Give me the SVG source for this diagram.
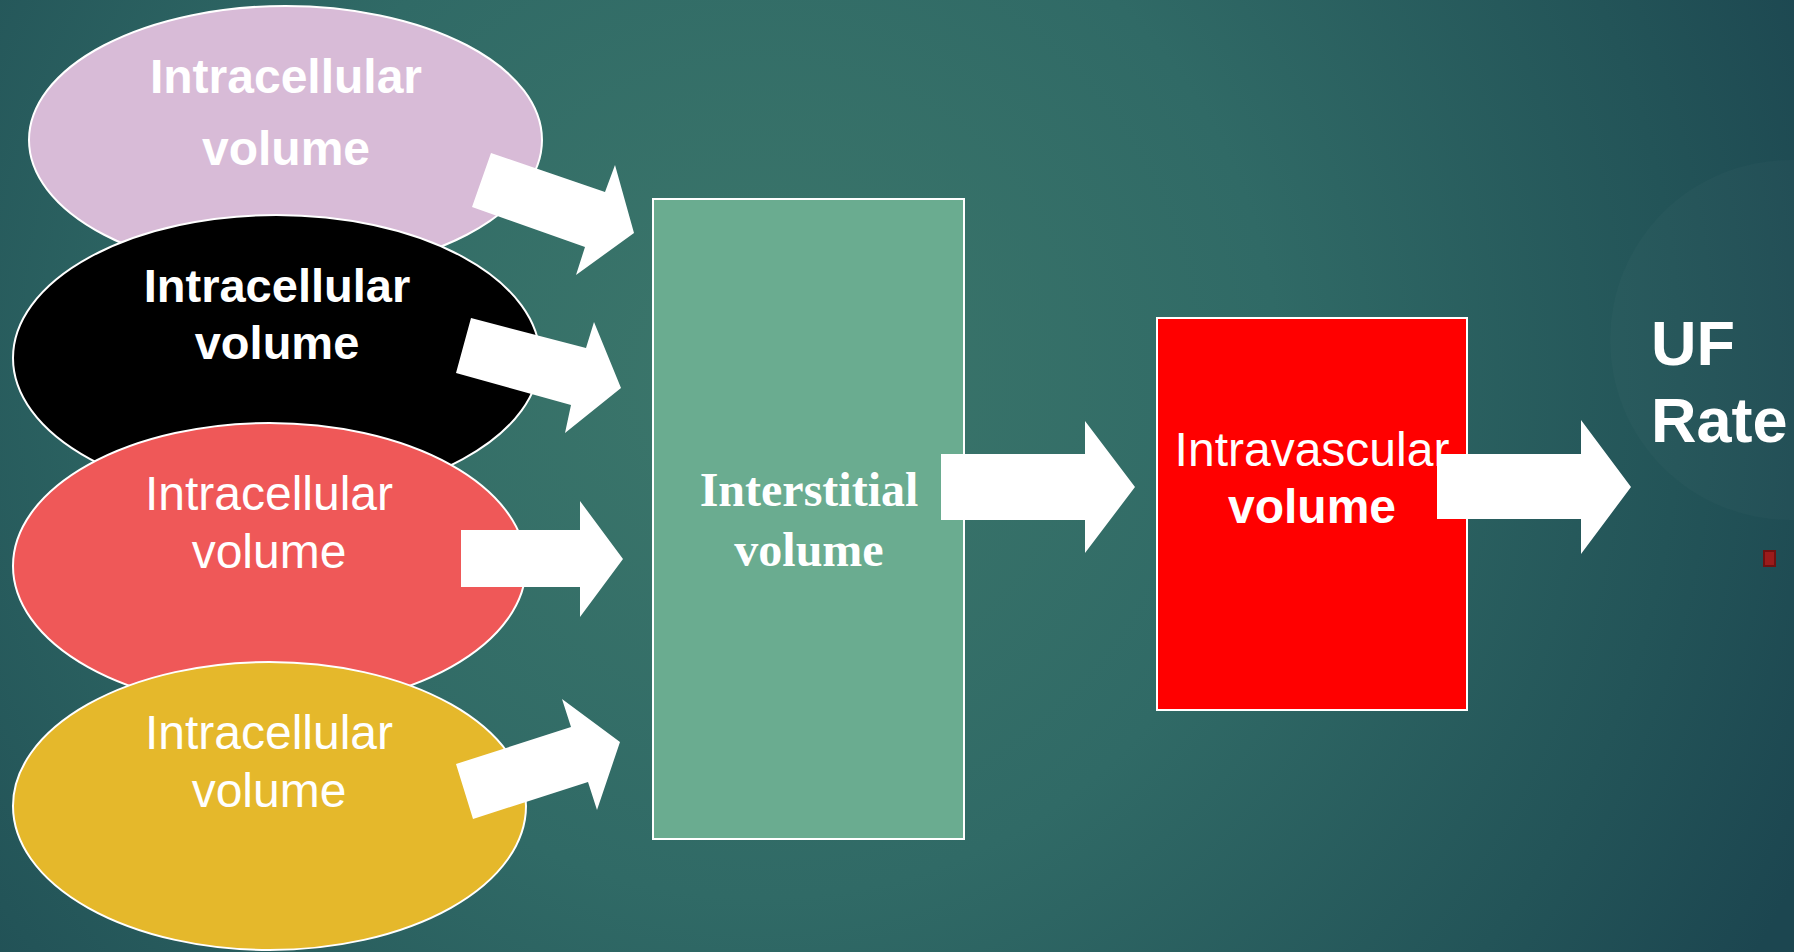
<svg xmlns="http://www.w3.org/2000/svg" width="1794" height="952" viewBox="0 0 1794 952">
<defs>
<radialGradient id="bg" cx="760" cy="380" r="1150" gradientUnits="userSpaceOnUse">
<stop offset="0" stop-color="#3C776B"/>
<stop offset="0.45" stop-color="#306A66"/>
<stop offset="0.8" stop-color="#235458"/>
<stop offset="1" stop-color="#1C4650"/>
</radialGradient>
<style>
.node{stroke:#FFFFFF;stroke-width:2}
.arrow{fill:#FFFFFF;stroke:none}
.t{fill:#FFFFFF;font-family:"Liberation Sans",Arial,sans-serif;font-size:48px;text-anchor:middle}
.b{font-weight:bold}
.serif{font-family:"Liberation Serif","Times New Roman",serif;font-weight:bold}
</style>
</defs>
<rect x="0" y="0" width="1794" height="952" fill="url(#bg)"/>
<circle cx="1790" cy="340" r="180" fill="#FFFFFF" fill-opacity="0.02"/>

<g id="node-intracellular-1">
<ellipse class="node" cx="285.5" cy="140" rx="256.5" ry="134" fill="#D8BBD7"/>
<text class="t b" x="286" y="93">Intracellular</text>
<text class="t b" x="286" y="165">volume</text>
</g>
<g id="node-intracellular-2">
<ellipse class="node" cx="276.5" cy="358" rx="263.5" ry="143" fill="#000000"/>
<text class="t b" x="277" y="302" style="font-size:47px">Intracellular</text>
<text class="t b" x="277" y="359" style="font-size:47px">volume</text>
</g>
<g id="node-intracellular-3">
<ellipse class="node" cx="269.5" cy="566" rx="256.5" ry="143" fill="#EF5858"/>
<text class="t" x="269" y="510">Intracellular</text>
<text class="t" x="269" y="568">volume</text>
</g>
<g id="node-intracellular-4">
<ellipse class="node" cx="269.5" cy="806" rx="256.5" ry="144" fill="#E5B82B"/>
<text class="t" x="269" y="749">Intracellular</text>
<text class="t" x="269" y="807">volume</text>
</g>
<g id="node-interstitial">
<rect class="node" x="653" y="199" width="311" height="640" fill="#6AAC90"/>
<text class="t serif" x="809" y="506">Interstitial</text>
<text class="t serif" x="809" y="566">volume</text>
</g>
<g id="node-intravascular">
<rect class="node" x="1157" y="318" width="310" height="392" fill="#FF0000"/>
<text class="t" x="1312" y="466">Intravascular</text>
<text class="t b" x="1312" y="523">volume</text>
</g>
<g id="node-uf-rate">
<text class="t b" x="1651" y="365" style="font-size:63px;text-anchor:start">UF</text>
<text class="t b" x="1651" y="442" style="font-size:63px;text-anchor:start">Rate</text>
<rect x="1764" y="551" width="11" height="15" fill="#9B1B1B" stroke="#701010" stroke-width="2"/>
</g>

<g id="connectors">
<polygon class="arrow" points="491,153 605,192 615,165 634,233 576,275 585,247 472,207"/>
<polygon class="arrow" points="471,318 586,348 594,322 621,388 565,433 571,405 456,373"/>
<polygon class="arrow" points="461,530 580,530 580,501 623,559 580,617 580,587 461,587"/>
<polygon class="arrow" points="456,764 571,727 562,699 620,742 597,810 588,782 473,819"/>
<polygon class="arrow" points="941,454 1085,454 1085,421 1135,487 1085,553 1085,520 941,520"/>
<polygon class="arrow" points="1437,454 1581,454 1581,420 1631,487 1581,554 1581,519 1437,519"/>
</g>
</svg>
